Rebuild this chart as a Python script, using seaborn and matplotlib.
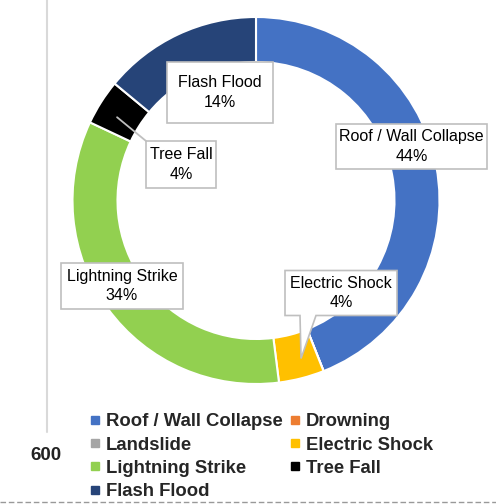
import numpy as np
import matplotlib
matplotlib.use("Agg")
import matplotlib.pyplot as plt
import seaborn as sns
from matplotlib.lines import Line2D
from matplotlib.patches import Rectangle, Polygon

sns.set_theme(style="white")
plt.rcParams['font.family'] = ['Liberation Sans', 'DejaVu Sans']

categories = ["Roof / Wall Collapse", "Drowning", "Landslide", "Electric Shock",
              "Lightning Strike", "Tree Fall", "Flash Flood"]
values = [44, 0, 0, 4, 34, 4, 14]
colors = ["#4472C4", "#ED7D31", "#A5A5A5", "#FFC000", "#92D050", "#000000", "#264478"]
axis_tick = "600"

W, H = 496, 504
fig = plt.figure(figsize=(W / 100, H / 100), dpi=100)
ax = fig.add_axes([0, 0, 1, 1])

cx, cy, R = 256, H - 200.5, 183.5
width = 45
wedges, _ = ax.pie(values, colors=colors, startangle=90, counterclock=False,
                   radius=R, center=(cx, cy), frame=True,
                   wedgeprops=dict(width=width, edgecolor="white", linewidth=1.5))
ax.set_xlim(0, W)
ax.set_ylim(0, H)
ax.set_aspect("equal")
ax.axis("off")

# mid angles of the slices
total = sum(values)
angles = []
start = 90
for v in values:
    span = 360 * v / total
    angles.append(np.deg2rad(start - span / 2))
    start -= span
rmid = R - width / 2

# label boxes: centre (px from top-left) and size
label_box = {
    "Roof / Wall Collapse": (411.5, 146.5, 151, 45),
    "Electric Shock": (341, 293, 112, 45),
    "Lightning Strike": (122, 286, 122, 46),
    "Tree Fall": (181, 164.5, 70, 47),
    "Flash Flood": (220, 92.5, 106, 61),
}
ec = "#BFBFBF"
for i, (cat, v) in enumerate(zip(categories, values)):
    if cat not in label_box:
        continue
    bx, by, bw, bh = label_box[cat]
    x0, x1 = bx - bw / 2, bx + bw / 2
    ytop, ybot = H - (by - bh / 2), H - (by + bh / 2)
    tgt = (cx + rmid * np.cos(angles[i]), cy + rmid * np.sin(angles[i]))
    if cat == "Electric Shock":
        tip = (tgt[0] + 5, tgt[1] - 2)
        verts = [(x0, ytop), (x1, ytop), (x1, ybot), (x0 + 31, ybot), tip,
                 (x0 + 15, ybot), (x0, ybot)]
        ax.add_patch(Polygon(verts, closed=True, fc="white", ec=ec, lw=1.2, zorder=5))
    else:
        if cat == "Tree Fall":
            ax.plot([x0, tgt[0] - 3], [ytop, tgt[1] - 3], color=ec, lw=1.3, zorder=4)
        ax.add_patch(Rectangle((x0, ybot), bw, bh, fc="white", ec=ec, lw=1.2, zorder=5))
    ax.text(bx, H - by, f"{cat}\n{v}%", ha="center", va="center", fontsize=11.5,
            color="black", linespacing=1.35, zorder=6)

# left axis line and tick label
ax.plot([47, 47], [H - 0, H - 432], color="#D9D9D9", lw=1.5)
ax.text(46, H - 455, axis_tick, ha="center", va="center", fontsize=13.5,
        fontweight="bold", color="#222222")
ax.plot([0, W], [H - 502, H - 502], color="#999999", lw=1, ls=(0, (4, 2)))

# legend (column-major order to reproduce row layout)
order = [0, 2, 4, 6, 1, 3, 5]
handles = [Line2D([], [], marker="s", ls="", color=colors[k], markersize=6.3) for k in order]
labels = [categories[k] for k in order]
leg = fig.legend(handles, labels, ncol=2, loc="upper left",
                 bbox_to_anchor=(80 / W, 1 - 404 / H),
                 frameon=False, prop=dict(weight="bold", size=13.3), handlelength=0.6,
                 handletextpad=0.3, columnspacing=0.35, labelspacing=0.34, borderpad=0)

fig.savefig("out.png", dpi=100)
